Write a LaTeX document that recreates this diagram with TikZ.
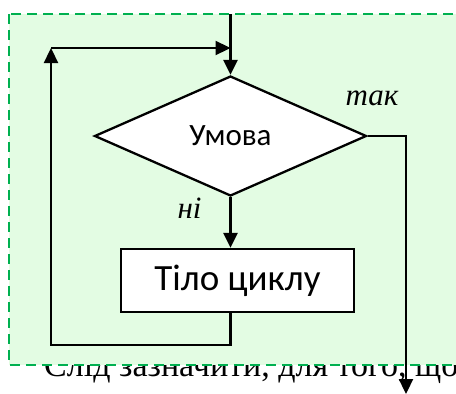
\documentclass[tikz,border=0pt]{standalone}
\usepackage{fontspec}
\setmainfont{Liberation Serif}
\newfontfamily\calibri{Carlito}
\usetikzlibrary{arrows.meta,shapes.geometric,calc}
\definecolor{loopGreen}{HTML}{00B050}
\definecolor{loopFill}{HTML}{E3FCE3}

\begin{document}
\begin{tikzpicture}[x=1pt,y=-1pt]
    \tikzset{
      lline/.style={draw=black, line width=2.3pt},
      larrow/.style={lline, -{Triangle[length=15pt,width=14pt]}},
      lcond/.style={diamond, lline, fill=white, minimum width=272pt, minimum height=120pt, inner sep=0pt, font=\calibri\fontsize{31}{37}\selectfont},
      lbody/.style={rectangle, lline, fill=white, minimum width=233pt, minimum height=63pt, font=\calibri\fontsize{37}{44}\selectfont},
      lword/.style={font=\itshape\fontsize{31}{36}\selectfont, inner sep=0pt}
    }
    \useasboundingbox (0,0) rectangle (456,394);
    \clip (0,0) rectangle (456,394);

    % page text behind the frame
    \node[anchor=base west, inner sep=0pt, font=\fontsize{34}{40}\selectfont] (para) at (44,376) {Слід зазначити, для того, щоб};

    % frame
    \draw[loopGreen, fill=loopFill, line width=2.6pt, dash pattern=on 10pt off 6pt] (9,14) rectangle (480,365);

    % blocks
    \node[lcond] (cond) at (230.5,136) {Умова};
    \node[lbody] (body) at (237.5,280.5) {Тіло циклу};
    \node[lword, anchor=base] (yes) at (372,105) {так};
    \node[lword, anchor=base] (no) at (189.5,218) {ні};

    \coordinate (entry) at (230.5,14);
    \coordinate (join) at (230.5,48);
    \coordinate (corner) at (51,48);
    \coordinate (loopBL) at (51,345);
    \coordinate (exit) at (406,394);

    % connectors
    \draw[larrow] (entry) -- (cond.north);
    \draw[larrow] (cond.south) -- (cond.south |- body.north);
    \draw[larrow] (cond.south |- body.south) |- (loopBL) -- (corner);
    \draw[larrow] (corner) -- (join);
    \draw[larrow] (cond.east) -| (exit);
\end{tikzpicture}
\end{document}
